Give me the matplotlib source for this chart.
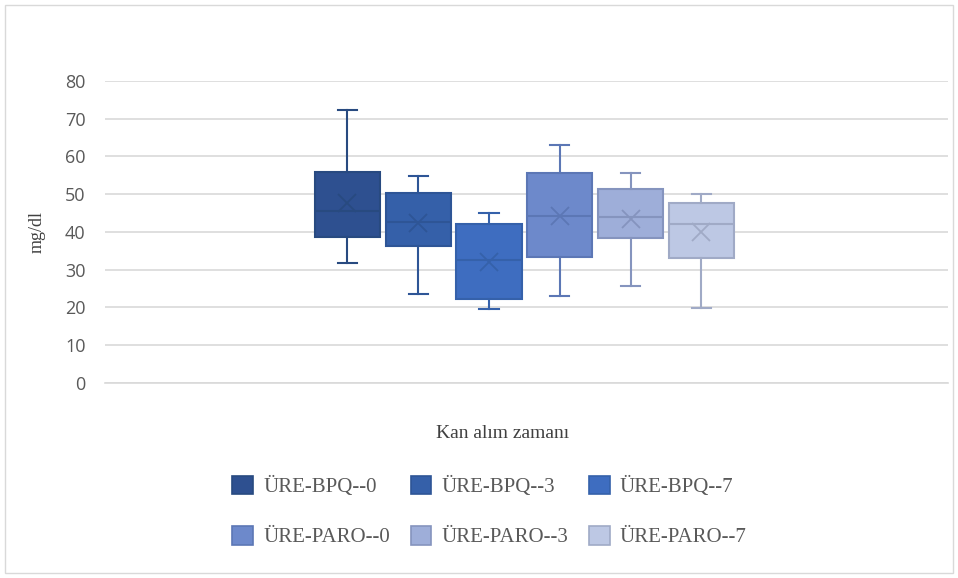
import matplotlib.pyplot as plt
from matplotlib.patches import Patch, Rectangle

# veriler
labels = ["ÜRE-BPQ--0", "ÜRE-BPQ--3", "ÜRE-BPQ--7", "ÜRE-PARO--0", "ÜRE-PARO--3", "ÜRE-PARO--7"]
whisker_low = [31.8, 23.5, 19.6, 23.1, 25.7, 19.8]
q1 = [38.8, 36.4, 22.2, 33.5, 38.4, 33.1]
median = [45.6, 42.6, 32.5, 44.2, 44.0, 42.0]
mean = [47.8, 42.4, 32.0, 44.2, 43.4, 39.9]
q3 = [56.0, 50.4, 42.1, 55.5, 51.5, 47.6]
whisker_high = [72.3, 54.9, 44.9, 63.0, 55.7, 50.1]

fill_colors = ["#2E5090", "#3560A9", "#3E6DC0", "#6D89CB", "#9EAED9", "#BDC8E4"]
edge_colors = ["#284A80", "#2E5596", "#3561AA", "#5C77B5", "#8594BE", "#A0AAC6"]

stats = []
for i in range(len(labels)):
    stats.append({"label": labels[i], "whislo": whisker_low[i], "q1": q1[i],
                  "med": median[i], "mean": mean[i], "q3": q3[i],
                  "whishi": whisker_high[i], "fliers": []})

fig = plt.figure(figsize=(9.58, 5.78), dpi=100)
ax = fig.add_axes([0.1096, 0.3374, 0.88, 0.5225])

pos = list(range(1, len(labels) + 1))
for i in range(len(labels)):
    ec = edge_colors[i]
    ax.bxp([stats[i]], positions=[pos[i]], widths=0.92, capwidths=0.27,
           showmeans=True, patch_artist=True, manage_ticks=False,
           boxprops=dict(facecolor=fill_colors[i], edgecolor=ec, linewidth=1.5),
           medianprops=dict(color=ec, linewidth=1.5),
           whiskerprops=dict(color=ec, linewidth=1.5),
           capprops=dict(color=ec, linewidth=1.5),
           meanprops=dict(marker="x", markeredgecolor=ec, markersize=13, markeredgewidth=1.3),
           zorder=3)

span = 843 / 70.8
ax.set_xlim(3.53 - span / 2, 3.53 + span / 2)
ax.set_ylim(0, 80)
ax.set_yticks(range(0, 81, 10))
ax.set_xticks([])
ax.grid(axis="y", color="#D9D9D9", linewidth=1.2, zorder=0)
ax.set_axisbelow(True)
for s in ["top", "right", "left"]:
    ax.spines[s].set_visible(False)
ax.spines["bottom"].set_color("#D9D9D9")
ax.spines["bottom"].set_linewidth(1.2)
ax.tick_params(axis="y", length=0, labelsize=13, labelcolor="#595959", pad=14)
for t in ax.get_yticklabels():
    t.set_family("Open Sans")

ax.set_ylabel("mg/dl", family="Liberation Serif", fontsize=13, color="#404040", labelpad=14)
fig.text(0.5245, 0.25, "Kan alım zamanı", family="Liberation Serif", fontsize=14,
         color="#404040", ha="center", va="center")

handles = [Patch(facecolor=fill_colors[i], edgecolor=edge_colors[i], linewidth=1.2, label=labels[i])
           for i in range(len(labels))]
order = [0, 3, 1, 4, 2, 5]
fig.legend([handles[k] for k in order], [labels[k] for k in order], ncol=3,
           loc="center", bbox_to_anchor=(0.511, 0.115), frameon=False,
           prop={"family": "Liberation Serif", "size": 15}, labelcolor="#595959",
           handlelength=1.0, handleheight=1.0, handletextpad=0.48, columnspacing=1.0,
           labelspacing=1.39)

fig.patches.append(Rectangle((0.005, 0.008), 0.99, 0.984, transform=fig.transFigure,
                             fill=False, edgecolor="#D9D9D9", linewidth=1))

fig.savefig("out.png", dpi=100)
